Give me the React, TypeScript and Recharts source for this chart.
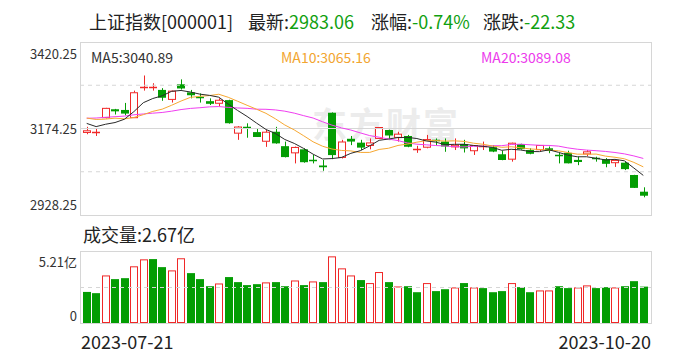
import React from "react";
import { ComposedChart, Bar, Line, XAxis, YAxis, ReferenceLine } from "recharts";

const dates = [
  "2023-07-21", "2023-07-24", "2023-07-25", "2023-07-26", "2023-07-27", "2023-07-28", "2023-07-31",
  "2023-08-01", "2023-08-02", "2023-08-03", "2023-08-04", "2023-08-07", "2023-08-08", "2023-08-09",
  "2023-08-10", "2023-08-11", "2023-08-14", "2023-08-15", "2023-08-16", "2023-08-17", "2023-08-18",
  "2023-08-21", "2023-08-22", "2023-08-23", "2023-08-24", "2023-08-25", "2023-08-28", "2023-08-29",
  "2023-08-30", "2023-08-31", "2023-09-01", "2023-09-04", "2023-09-05", "2023-09-06", "2023-09-07",
  "2023-09-08", "2023-09-11", "2023-09-12", "2023-09-13", "2023-09-14", "2023-09-15", "2023-09-18",
  "2023-09-19", "2023-09-20", "2023-09-21", "2023-09-22", "2023-09-25", "2023-09-26", "2023-09-27",
  "2023-09-28", "2023-10-09", "2023-10-10", "2023-10-11", "2023-10-12", "2023-10-13", "2023-10-16",
  "2023-10-17", "2023-10-18", "2023-10-19", "2023-10-20",
];

const opens = [
  3163, 3161, 3205, 3229, 3227, 3205, 3287, 3290, 3284, 3257,
  3300, 3277, 3263, 3252, 3246, 3255, 3161, 3179, 3164, 3138,
  3165, 3124, 3105, 3115, 3085, 3069, 3219, 3092, 3145, 3134,
  3126, 3146, 3170, 3149, 3153, 3115, 3121, 3141, 3137, 3122,
  3130, 3111, 3123, 3121, 3101, 3087, 3130, 3113, 3114, 3118,
  3099, 3105, 3085, 3102, 3090, 3087, 3077, 3077, 3042, 2994.5,
];
const highs = [
  3179, 3175, 3233, 3230, 3247, 3282, 3325, 3303, 3289, 3282,
  3314, 3284, 3274, 3260, 3260, 3256, 3181, 3189, 3175, 3170,
  3179, 3137, 3123, 3118, 3099, 3085, 3220, 3142, 3153, 3142,
  3146, 3178, 3171, 3165, 3156, 3125, 3156, 3146, 3146, 3146,
  3142, 3126, 3137, 3127, 3111, 3134, 3131, 3118, 3127, 3123,
  3105, 3111, 3094, 3113, 3094, 3090, 3084, 3080, 3042.5, 3007,
];
const lows = [
  3158, 3153, 3203, 3214, 3212, 3204, 3282, 3282, 3253, 3248,
  3285, 3260, 3248, 3241, 3238, 3188, 3142, 3148, 3150, 3122,
  3131, 3092, 3075, 3077, 3075, 3054, 3087, 3089, 3127, 3113,
  3115, 3145, 3146, 3137, 3121, 3105, 3118, 3127, 3108, 3113,
  3106, 3099, 3113, 3107, 3084, 3080, 3114, 3101, 3110, 3104,
  3075, 3075, 3070, 3096, 3080, 3064, 3065, 3056, 3005, 2978.6,
];
const closes = [
  3167.75, 3164.16, 3231.52, 3223.03, 3216.67, 3275.93, 3291.04, 3290.95, 3261.69, 3280.46,
  3288.08, 3268.83, 3260.62, 3244.49, 3254.56, 3189.25, 3178.43, 3176.18, 3150.13, 3163.74,
  3131.95, 3092.98, 3120.33, 3078.4, 3082.24, 3064.07, 3098.64, 3135.89, 3137.14, 3119.88,
  3133.25, 3177.06, 3154.37, 3158.08, 3122.35, 3116.72, 3142.78, 3137.06, 3123.07, 3126.55,
  3117.74, 3125.93, 3124.25, 3108.57, 3084.7, 3132.43, 3115.61, 3102.27, 3126, 3110.48,
  3096.92, 3075.24, 3078.96, 3107.9, 3088.1, 3073.81, 3083.5, 3058.71, 3005.39, 2983.06,
];

const ma5 = [
  3188.71, 3179.62, 3186.36, 3191.2, 3200.63, 3222.26, 3247.64, 3259.52, 3267.26, 3280.01,
  3282.44, 3278.0, 3271.94, 3268.5, 3263.32, 3243.55, 3225.47, 3208.58, 3189.71, 3171.55,
  3160.09, 3143.0, 3131.83, 3117.48, 3101.18, 3087.6, 3088.74, 3091.85, 3103.6, 3111.12,
  3124.96, 3140.64, 3144.34, 3148.53, 3149.02, 3145.72, 3138.86, 3135.4, 3128.4, 3129.24,
  3129.44, 3126.07, 3123.51, 3120.61, 3112.24, 3115.18, 3113.11, 3108.72, 3108.47, 3113.62,
  3106.52, 3098.45, 3093.78, 3093.9, 3089.42, 3084.8, 3086.45, 3082.4, 3061.9, 3040.89,
];
const ma10 = [
  3203.89, 3199.94, 3200.96, 3203.65, 3201.66, 3205.49, 3213.63, 3222.94, 3229.23, 3240.32,
  3252.35, 3262.82, 3265.73, 3267.88, 3271.67, 3263.0, 3251.74, 3240.26, 3229.1, 3217.43,
  3201.82, 3184.23, 3170.2, 3153.6, 3136.36, 3123.85, 3115.87, 3111.84, 3110.54, 3106.15,
  3106.28, 3114.69, 3118.09, 3126.06, 3130.07, 3135.34, 3139.75, 3139.87, 3138.46, 3139.13,
  3137.58, 3132.47, 3129.45, 3124.5, 3120.74, 3122.31, 3119.59, 3116.11, 3114.54, 3112.93,
  3110.85, 3105.78, 3101.25, 3101.18, 3101.52, 3095.66, 3092.45, 3088.09, 3077.9, 3065.16,
];
const ma20 = [
  3203.37, 3204.04, 3206.15, 3207.83, 3209.54, 3213.24, 3215.59, 3217.87, 3219.81, 3223.55,
  3228.12, 3231.38, 3233.34, 3235.76, 3236.66, 3234.24, 3232.68, 3231.6, 3229.16, 3228.88,
  3227.09, 3223.53, 3217.97, 3210.74, 3204.01, 3193.42, 3183.8, 3176.05, 3169.82, 3161.79,
  3154.05, 3149.46, 3144.15, 3139.83, 3133.22, 3129.59, 3127.81, 3125.85, 3124.5, 3122.64,
  3121.93, 3123.58, 3123.77, 3125.28, 3125.41, 3128.82, 3129.67, 3127.99, 3126.5, 3126.03,
  3124.21, 3119.12, 3115.35, 3112.84, 3111.13, 3108.98, 3106.02, 3102.1, 3096.22, 3089.08,
];

// 成交量 (亿)
const volumes = [
  2.28, 2.19, 3.49, 3.22, 3.29, 4.16, 4.67, 4.69, 4.1, 3.86,
  4.75, 3.66, 3.22, 2.7, 2.9, 3.37, 3.0, 2.78, 2.85, 2.98,
  3.0, 2.7, 3.12, 2.78, 3.05, 3.0, 4.89, 4.01, 3.49, 3.15,
  2.93, 3.74, 3.0, 2.68, 2.7, 2.26, 2.93, 2.34, 2.48, 2.61,
  2.93, 2.61, 2.56, 2.26, 2.34, 2.93, 2.63, 2.26, 2.39, 2.39,
  2.7, 2.56, 2.61, 2.76, 2.56, 2.63, 2.61, 2.7, 3.07, 2.67,
];
const volUp = [
  0, 0, 1, 0, 0, 1, 1, 0, 0, 1,
  1, 0, 0, 0, 1, 0, 0, 0, 0, 1,
  0, 0, 1, 0, 1, 0, 1, 1, 1, 0,
  1, 1, 0, 1, 0, 0, 1, 0, 0, 1,
  0, 1, 0, 0, 0, 1, 0, 0, 1, 1,
  0, 0, 1, 1, 0, 0, 1, 0, 0, 0,
];

const priceTicks = [3420.25, 3174.25, 2928.25];
const volTickLabels = ["5.21亿", "0"];

const RED = "#f02828";
const GREEN = "#039d03";
const GRID = "#d6d6d6";
const FONT = '"Noto Sans CJK SC", "Microsoft YaHei", sans-serif';

const data = dates.map((d, i) => ({
  date: d,
  open: opens[i],
  high: highs[i],
  low: lows[i],
  close: closes[i],
  range: [lows[i], highs[i]],
  ma5: ma5[i],
  ma10: ma10[i],
  ma20: ma20[i],
  vol: volumes[i],
  volUp: volUp[i] === 1,
}));

function Candle(props: any) {
  const { x, y, width, height, payload } = props;
  if (x == null || y == null || !payload) return null;
  const top = Math.min(y, y + height);
  const h = Math.abs(height);
  const { open, close, high, low } = payload;
  const k = h / (high - low);
  const py = (v: number) => top + (high - v) * k;
  const up = close >= open;
  const color = up ? RED : GREEN;
  const left = Math.round(x);
  const w = Math.round(width);
  const cx = left + Math.floor(w / 2) + 0.5;
  const bTop = py(Math.max(open, close));
  const bBot = py(Math.min(open, close));
  const bh = bBot - bTop;
  if (bh < 1.5) {
    const yy = Math.round(bTop) + 0.5;
    return (
      <g>
        <line x1={cx} x2={cx} y1={top} y2={top + h} stroke={color} />
        <line x1={left} x2={left + w} y1={yy} y2={yy} stroke={color} strokeWidth={1.5} />
      </g>
    );
  }
  if (up) {
    return (
      <g>
        <line x1={cx} x2={cx} y1={top} y2={bTop} stroke={color} />
        <line x1={cx} x2={cx} y1={bBot} y2={top + h} stroke={color} />
        <rect x={left + 0.5} y={bTop} width={w - 1} height={bh} fill="#fff" stroke={color} />
      </g>
    );
  }
  return (
    <g>
      <line x1={cx} x2={cx} y1={top} y2={top + h} stroke={color} />
      <rect x={left} y={bTop} width={w} height={bh} fill={color} />
    </g>
  );
}

function VolBar(props: any) {
  const { x, y, width, height, payload } = props;
  if (x == null || y == null || !payload) return null;
  const left = Math.round(x);
  const w = Math.round(width);
  if (payload.volUp) {
    return <rect x={left + 0.5} y={y + 0.5} width={w - 1} height={Math.max(height - 1, 0)} fill="#fff" stroke={RED} />;
  }
  return <rect x={left} y={y} width={w} height={height} fill={GREEN} />;
}

const abs = (style: React.CSSProperties): React.CSSProperties => ({
  position: "absolute",
  fontFamily: FONT,
  whiteSpace: "nowrap",
  ...style,
});

export default function App() {
  return (
    <div style={{ position: "absolute", left: 0, top: 0, width: 688, height: 360, background: "#fff", overflow: "hidden" }}>
      {/* title */}
      <div style={abs({ left: 89, top: 9, fontSize: 18, lineHeight: "24px", color: "#222" })}>上证指数[000001]</div>
      <div style={abs({ left: 248, top: 9, fontSize: 18, lineHeight: "24px", color: "#222" })}>
        最新:<span style={{ color: "#10a010" }}>2983.06</span>
      </div>
      <div style={abs({ left: 371, top: 9, fontSize: 18, lineHeight: "24px", color: "#222" })}>
        涨幅:<span style={{ color: "#10a010" }}>-0.74%</span>
      </div>
      <div style={abs({ left: 483, top: 9, fontSize: 18, lineHeight: "24px", color: "#222" })}>
        涨跌:<span style={{ color: "#10a010" }}>-22.33</span>
      </div>

      {/* boxes */}
      <div style={{ position: "absolute", left: 80, top: 42, width: 572, height: 174, boxSizing: "border-box", border: `1px solid ${GRID}` }} />
      <div style={{ position: "absolute", left: 80, top: 251, width: 572, height: 73, boxSizing: "border-box", border: `1px solid ${GRID}` }} />

      {/* watermark */}
      <div style={abs({ left: 312, top: 102, fontSize: 35, lineHeight: "42px", fontWeight: 700, color: "#ececec", letterSpacing: 2 })}>东方财富</div>

      {/* price axis labels */}
      <div style={abs({ right: 611, top: 46, fontSize: 13, lineHeight: "16px", color: "#333" })}>{priceTicks[0]}</div>
      <div style={abs({ right: 611, top: 121, fontSize: 13, lineHeight: "16px", color: "#333" })}>{priceTicks[1]}</div>
      <div style={abs({ right: 611, top: 197, fontSize: 13, lineHeight: "16px", color: "#333" })}>{priceTicks[2]}</div>

      {/* candlestick chart */}
      <div style={{ position: "absolute", left: 0, top: 0 }}>
        <ComposedChart width={688} height={220} data={data} margin={{ top: 42, right: 37, bottom: 5, left: 80 }}>
          <XAxis dataKey="date" hide padding={{ left: 2, right: 3 }} />
          <YAxis hide domain={[2928.25, 3420.25]} />
          <ReferenceLine y={3297.25} stroke={GRID} strokeDasharray="4 4" />
          <ReferenceLine y={3174.25} stroke={GRID} />
          <ReferenceLine y={3051.25} stroke={GRID} strokeDasharray="4 4" />
          <Bar dataKey="range" barSize={8} shape={<Candle />} isAnimationActive={false} />
          <Line dataKey="ma20" stroke="#f03ef0" strokeWidth={1} dot={false} activeDot={false} isAnimationActive={false} />
          <Line dataKey="ma10" stroke="#f7a832" strokeWidth={1} dot={false} activeDot={false} isAnimationActive={false} />
          <Line dataKey="ma5" stroke="#2a2a2a" strokeWidth={1} dot={false} activeDot={false} isAnimationActive={false} />
        </ComposedChart>
      </div>

      {/* MA legends */}
      <div style={abs({ left: 91, top: 48, fontSize: 14, lineHeight: "18px", color: "#333" })}>MA5:3040.89</div>
      <div style={abs({ left: 281, top: 48, fontSize: 14, lineHeight: "18px", color: "#f2a530" })}>MA10:3065.16</div>
      <div style={abs({ left: 481, top: 48, fontSize: 14, lineHeight: "18px", color: "#ec3aec" })}>MA20:3089.08</div>

      {/* volume */}
      <div style={abs({ left: 83, top: 222, fontSize: 18, lineHeight: "24px", color: "#222" })}>成交量:2.67亿</div>
      <div style={abs({ right: 611, top: 254, fontSize: 13, lineHeight: "16px", color: "#333" })}>{volTickLabels[0]}</div>
      <div style={abs({ right: 611, top: 308, fontSize: 13, lineHeight: "16px", color: "#333" })}>{volTickLabels[1]}</div>

      <div style={{ position: "absolute", left: 0, top: 0 }}>
        <ComposedChart width={688} height={330} data={data} margin={{ top: 252, right: 37, bottom: 7, left: 80 }}>
          <XAxis dataKey="date" hide padding={{ left: 2, right: 3 }} />
          <YAxis hide domain={[0, 5.21]} />
          <ReferenceLine y={2.605} stroke={GRID} strokeDasharray="4 4" />
          <Bar dataKey="vol" barSize={8} shape={<VolBar />} isAnimationActive={false} />
        </ComposedChart>
      </div>

      {/* date labels */}
      <div style={abs({ left: 81, top: 329, fontSize: 18, lineHeight: "24px", color: "#222" })}>{dates[0]}</div>
      <div style={abs({ right: 37, top: 329, fontSize: 18, lineHeight: "24px", color: "#222" })}>{dates[dates.length - 1]}</div>
    </div>
  );
}
